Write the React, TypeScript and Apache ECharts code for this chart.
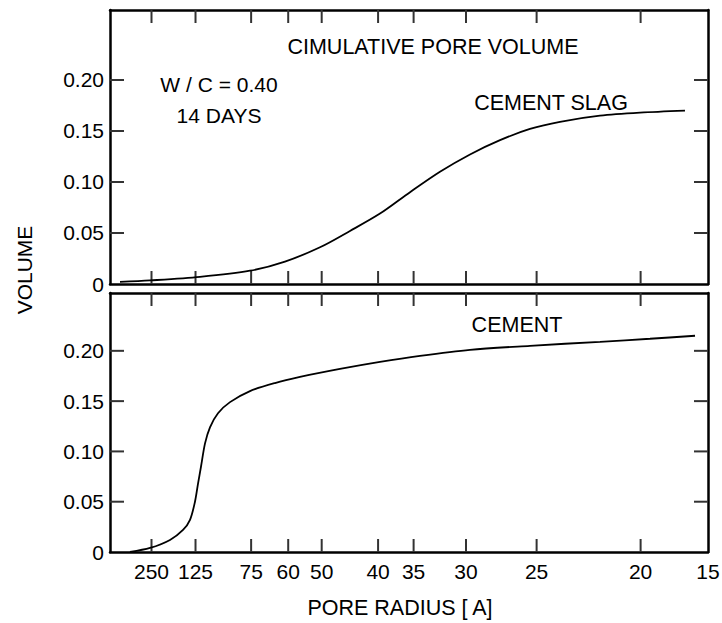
import React, { useEffect, useRef } from 'react';
import * as echarts from 'echarts';

// x axis: positions (axis units 0..100) of the pore-radius ticks and their labels
const tickPositions = [6.94, 14.3, 23.6, 29.8, 35.4, 44.83, 50.77, 59.53, 71.34, 88.73, 100];
const tickLabels = ['250', '125', '75', '60', '50', '40', '35', '30', '25', '20', '15'];
const yTicks = [0, 0.05, 0.1, 0.15, 0.2];

// CEMENT SLAG (top panel)
const slagX = [1.67, 6.69, 15.05, 23.41, 29.26, 35.12, 40.13, 45.15, 50.17, 55.18, 60.2, 65.22, 70.23, 75.25, 81.94, 88.63, 96.15];
const slagY = [0.002, 0.0035, 0.007, 0.013, 0.022, 0.036, 0.052, 0.069, 0.09, 0.11, 0.127, 0.141, 0.152, 0.159, 0.165, 0.168, 0.17];

// CEMENT (bottom panel)
const cementX = [3.34, 6.69, 10.03, 12.21, 13.38, 14.21, 14.72, 15.22, 15.89, 16.72, 18.06, 20.07, 23.41, 27.59, 31.77, 38.46, 45.15, 51.84, 60.2, 70.23, 81.94, 90.3, 97.83];
const cementY = [0.0, 0.004, 0.012, 0.022, 0.032, 0.05, 0.068, 0.085, 0.108, 0.124, 0.138, 0.149, 0.16, 0.168, 0.174, 0.182, 0.189, 0.195, 0.201, 0.205, 0.209, 0.212, 0.215];

const FONT = '"Liberation Sans", Arial, sans-serif';
const X_MAX = 100;
const TOP_MAX = 0.2686;
const BOT_MAX = 0.2575;

export default function App() {
  const ref = useRef<HTMLDivElement>(null);
  useEffect(() => {
    if (!ref.current) return;
    const chart = echarts.init(ref.current, undefined, { renderer: 'svg' });
    const frameLine = { show: true, onZero: false, lineStyle: { color: '#000', width: 2.5 } };
    const xFormatter = (v: number) => {
      const i = tickPositions.findIndex((t) => Math.abs(t - v) < 1e-6);
      return i >= 0 ? tickLabels[i] : '';
    };
    const yFormatter = (v: number) => (v === 0 ? '0' : v.toFixed(2));
    const mkX = (gridIndex: number, position: string, labels: boolean) => ({
      type: 'value',
      gridIndex,
      position,
      min: 0,
      max: X_MAX,
      axisLine: frameLine,
      axisTick: { show: false },
      splitLine: { show: false },
      axisLabel: labels
        ? { show: true, customValues: tickPositions, formatter: xFormatter, fontSize: 21, color: '#000', margin: 9, fontFamily: FONT }
        : { show: false },
    });
    const mkY = (gridIndex: number, position: string, max: number, labels: boolean) => ({
      type: 'value',
      gridIndex,
      position,
      min: 0,
      max,
      axisLine: frameLine,
      axisTick: { show: false },
      splitLine: { show: false },
      axisLabel: labels
        ? { show: true, customValues: yTicks, formatter: yFormatter, fontSize: 21, color: '#000', margin: 6, fontFamily: FONT }
        : { show: false },
    });
    const tickStyle = { stroke: '#333333', lineWidth: 2, fill: 'none' };
    // inside tick marks on the top and bottom edges, placed through the axis scale
    const xTickSeries = (axisIndex: number, yMax: number) => ({
      type: 'custom',
      coordinateSystem: 'cartesian2d',
      xAxisIndex: axisIndex,
      yAxisIndex: axisIndex,
      clip: false,
      data: tickPositions.slice(0, -1).map((v) => [v, yMax / 2]),
      renderItem: (_p: any, api: any) => {
        const top = api.coord([api.value(0), yMax]);
        const bot = api.coord([api.value(0), 0]);
        return {
          type: 'group',
          children: [
            { type: 'line', shape: { x1: top[0], y1: top[1], x2: top[0], y2: top[1] + 13 }, style: tickStyle },
            { type: 'line', shape: { x1: bot[0], y1: bot[1], x2: bot[0], y2: bot[1] - 13 }, style: tickStyle },
          ],
        };
      },
    });
    // inside tick marks on the left and right edges
    const yTickSeries = (axisIndex: number) => ({
      type: 'custom',
      coordinateSystem: 'cartesian2d',
      xAxisIndex: axisIndex,
      yAxisIndex: axisIndex,
      clip: false,
      data: yTicks.slice(1).map((v) => [X_MAX / 2, v]),
      renderItem: (_p: any, api: any) => {
        const l = api.coord([0, api.value(1)]);
        const r = api.coord([X_MAX, api.value(1)]);
        return {
          type: 'group',
          children: [
            { type: 'line', shape: { x1: l[0], y1: l[1], x2: l[0] + 14, y2: l[1] }, style: tickStyle },
            { type: 'line', shape: { x1: r[0], y1: r[1], x2: r[0] - 14, y2: r[1] }, style: tickStyle },
          ],
        };
      },
    });
    const lineStyle = { color: '#000', width: 1.8 };
    const txt = (text: string, x: number, y: number, size = 21, rotation = 0) => ({
      type: 'text',
      x,
      y,
      rotation,
      style: { text, font: `${size}px ${FONT}`, fill: '#000', textAlign: 'center', textVerticalAlign: 'middle' },
    });
    chart.setOption({
      animation: false,
      backgroundColor: '#fff',
      grid: [
        { left: 110, top: 10, width: 598, height: 274, containLabel: false, outerBoundsMode: 'none' },
        { left: 110, top: 293, width: 598, height: 259, containLabel: false, outerBoundsMode: 'none' },
      ],
      xAxis: [mkX(0, 'bottom', false), mkX(1, 'bottom', true), mkX(0, 'top', false), mkX(1, 'top', false)],
      yAxis: [mkY(0, 'left', TOP_MAX, true), mkY(1, 'left', BOT_MAX, true), mkY(0, 'right', TOP_MAX, false), mkY(1, 'right', BOT_MAX, false)],
      series: [
        xTickSeries(0, TOP_MAX),
        xTickSeries(1, BOT_MAX),
        yTickSeries(0),
        yTickSeries(1),
        {
          type: 'line',
          xAxisIndex: 0,
          yAxisIndex: 0,
          data: slagX.map((x, i) => [x, slagY[i]]),
          showSymbol: false,
          smooth: 0.3,
          lineStyle,
        },
        {
          type: 'line',
          xAxisIndex: 1,
          yAxisIndex: 1,
          data: cementX.map((x, i) => [x, cementY[i]]),
          showSymbol: false,
          smooth: 0.3,
          lineStyle,
        },
      ],
      graphic: [
        txt('CIMULATIVE PORE VOLUME', 433, 47, 21.5),
        txt('W / C = 0.40', 219, 84),
        txt('14 DAYS', 219, 115),
        txt('CEMENT SLAG', 551, 103, 21.5),
        txt('CEMENT', 517, 325, 21.5),
        txt('VOLUME', 24, 270, 21, Math.PI / 2),
        txt('PORE RADIUS [ A]', 400, 608, 21.5),
      ],
    });
    return () => chart.dispose();
  }, []);
  return (
    <div
      ref={ref}
      style={{ position: 'fixed', left: 0, top: 0, width: 722, height: 623, background: '#fff' }}
    />
  );
}
